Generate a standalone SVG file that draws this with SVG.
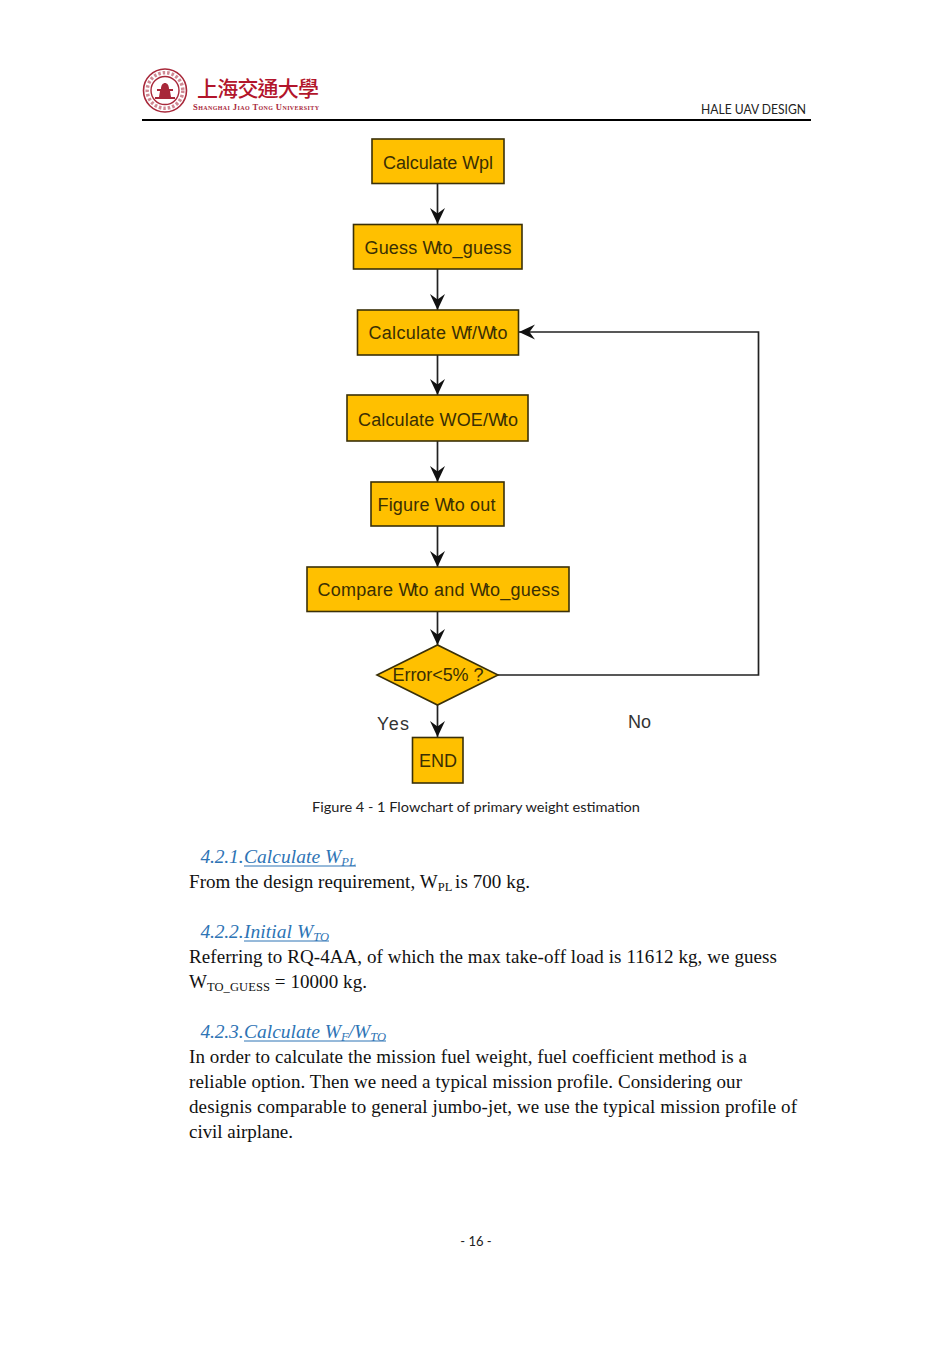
<svg xmlns="http://www.w3.org/2000/svg" width="952" height="1347" viewBox="0 0 952 1347">
<defs>
<marker id="ah" markerUnits="userSpaceOnUse" markerWidth="18" markerHeight="18" refX="16" refY="8.500" orient="auto"><path d="M0,1 L16,8.500 L0,16 L5.500,8.500 Z" fill="#111"/></marker>
</defs>
<style>
.n{fill:#ffc000;stroke:#3a3008;stroke-width:1.6}
.nt{font-family:"Liberation Sans",Arial,sans-serif;font-size:18px;fill:#3a2f04;text-anchor:middle}
.lb{font-family:"Liberation Sans",Arial,sans-serif;font-size:18px;fill:#333}
.c{fill:none;stroke:#222;stroke-width:1.7}
.cal{font-family:Lato,"Open Sans",sans-serif;fill:#222}
.b{font-family:"Liberation Serif","Times New Roman",serif;font-size:19px;fill:#111}
.h{font-family:"Liberation Serif","Times New Roman",serif;font-size:19.500px;font-style:italic;fill:#2e74b5}
.u{stroke:#2e74b5;stroke-width:1}
.s{font-size:12.500px}
</style>
<rect width="952" height="1347" fill="#fff"/>
<g id="header">
<g fill="none" stroke="#a8283a">
<circle cx="165" cy="90.500" r="21.500" stroke-width="1.600"/>
<circle cx="165" cy="90.500" r="14" stroke-width="1.400"/>
<circle cx="165" cy="90.500" r="17.800" stroke-width="3.500" stroke-dasharray="2.500 2" opacity=".55"/>
</g>
<path d="M155,99h20v-2h-4l-1,-6h3v-2h-4c0,-4,-2,-6,-4,-6s-4,2,-4,6h-4v2h3l-1,6h-4z" fill="#a8283a"/>
<text x="197" y="95.500" font-family="'Noto Sans CJK TC','Noto Sans CJK SC',sans-serif" font-size="21" font-weight="500" fill="#b2152b" textLength="122" lengthAdjust="spacing">上海交通大學</text>
<text x="193" y="109.500" font-family="'Liberation Serif',serif" font-size="8.500" font-weight="700" font-variant="small-caps" fill="#a8283a" textLength="126" lengthAdjust="spacing">Shanghai Jiao Tong University</text>
<text x="701" y="114" class="cal" font-size="13.500" textLength="105" lengthAdjust="spacingAndGlyphs">HALE UAV DESIGN</text>
<line x1="142" y1="120" x2="811" y2="120" stroke="#000" stroke-width="2"/>
</g>
<g id="connectors">
<path class="c" marker-end="url(#ah)" d="M437.500,184V224"/>
<path class="c" marker-end="url(#ah)" d="M437.500,269V310"/>
<path class="c" marker-end="url(#ah)" d="M437.500,355V395"/>
<path class="c" marker-end="url(#ah)" d="M437.500,441V482"/>
<path class="c" marker-end="url(#ah)" d="M437.500,526V567"/>
<path class="c" marker-end="url(#ah)" d="M437.500,611V645"/>
<path class="c" marker-end="url(#ah)" d="M437.500,705V737"/>
<path class="c" marker-end="url(#ah)" d="M498,675H758.500V332H519"/>
</g>
<g id="n1"><rect class="n" x="372" y="139" width="132" height="44.500"/><text class="nt" x="438" y="168.500" textLength="110">Calculate Wpl</text></g>
<g id="n2"><rect class="n" x="353.500" y="224.500" width="168.500" height="44.500"/><text class="nt" x="438" y="254" textLength="147">Guess W<tspan dx="-2.500">to_guess</tspan></text></g>
<g id="n3"><rect class="n" x="357.500" y="310" width="161" height="45"/><text class="nt" x="438" y="339" textLength="139">Calculate W<tspan dx="-2">f/W</tspan><tspan dx="-2.500">to</tspan></text></g>
<g id="n4"><rect class="n" x="347" y="395" width="181" height="46"/><text class="nt" x="438" y="425.500" textLength="160">Calculate WOE/W<tspan dx="-2.500">to</tspan></text></g>
<g id="n5"><rect class="n" x="371" y="482" width="133" height="44"/><text class="nt" x="436.500" y="511" textLength="118">Figure W<tspan dx="-2.500">to out</tspan></text></g>
<g id="n6"><rect class="n" x="307" y="567" width="262" height="44.500"/><text class="nt" x="438.500" y="596" textLength="242">Compare W<tspan dx="-2.500">to and W</tspan><tspan dx="-2.500">to_guess</tspan></text></g>
<g id="n7"><path class="n" d="M377,675L437.500,645L498,675L437.500,705Z"/><text class="nt" x="438" y="681" textLength="91">Error&lt;5% ?</text></g>
<g id="n8"><rect class="n" x="412.500" y="737.500" width="50.500" height="45.500"/><text class="nt" x="438" y="767">END</text></g>
<text class="lb" x="377" y="729.500" textLength="32">Yes</text>
<text class="lb" x="628" y="727.500">No</text>
<g id="body">
<text class="cal" x="312" y="812" font-size="14" textLength="328" lengthAdjust="spacingAndGlyphs">Figure 4 - 1 Flowchart of primary weight estimation</text>

<text class="h" x="200.500" y="863" textLength="43">4.2.1.</text>
<text class="h" x="244" y="863" textLength="112">Calculate W<tspan class="s" dy="3">PL</tspan></text>
<line class="u" x1="244" x2="356" y1="866" y2="866"/>
<text class="b" x="189" y="888" textLength="341">From the design requirement, W<tspan class="s" dy="3">PL </tspan><tspan dy="-3">is 700 kg.</tspan></text>

<text class="h" x="200.500" y="938" textLength="43">4.2.2.</text>
<text class="h" x="244" y="938" textLength="85">Initial W<tspan class="s" dy="3">TO</tspan></text>
<line class="u" x1="244" x2="329" y1="941" y2="941"/>
<text class="b" x="189" y="963" textLength="588">Referring to RQ-4AA, of which the max take-off load is 11612 kg, we guess</text>
<text class="b" x="189" y="988" textLength="178">W<tspan class="s" dy="3">TO_GUESS</tspan><tspan dy="-3"> = 10000 kg.</tspan></text>

<text class="h" x="200.500" y="1038" textLength="43">4.2.3.</text>
<text class="h" x="244" y="1038" textLength="142">Calculate W<tspan class="s" dy="3">F</tspan><tspan dy="-3">/W</tspan><tspan class="s" dy="3">TO</tspan></text>
<line class="u" x1="244" x2="386" y1="1041" y2="1041"/>
<text class="b" x="189" y="1063" textLength="558">In order to calculate the mission fuel weight, fuel coefficient method is a</text>
<text class="b" x="189" y="1088" textLength="553">reliable option. Then we need a typical mission profile. Considering our</text>
<text class="b" x="189" y="1113" textLength="608">designis comparable to general jumbo-jet, we use the typical mission profile of</text>
<text class="b" x="189" y="1138" textLength="104">civil airplane.</text>
<text class="cal" x="476" y="1246" font-size="13" text-anchor="middle">- 16 -</text>
</g>
</svg>
